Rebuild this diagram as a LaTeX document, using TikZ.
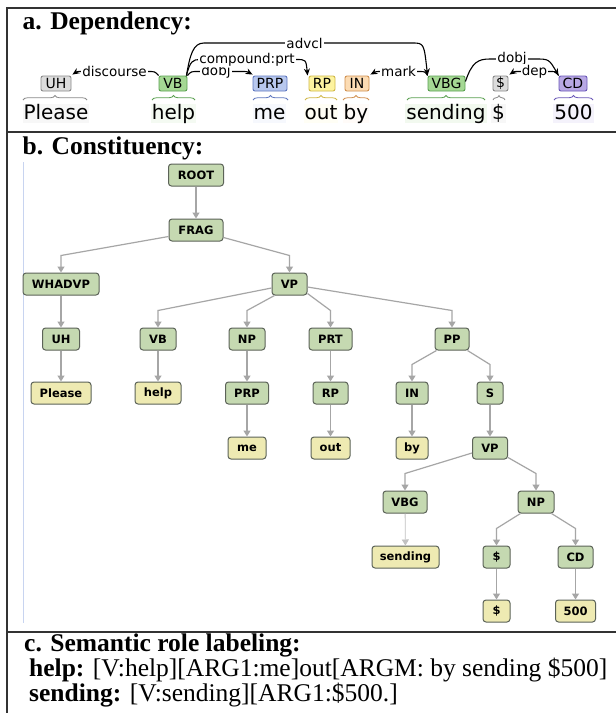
\documentclass[tikz,border=0pt]{standalone}
\usepackage{fontspec}
\setmainfont{Liberation Serif}
\newfontfamily\djv{DejaVu Sans}
\usetikzlibrary{arrows.meta,decorations.pathreplacing,calc}
\definecolor{framec}{HTML}{333333}
\definecolor{ghfill}{HTML}{DCDCDC}\definecolor{ghdraw}{HTML}{8A8A8A}
\definecolor{gnfill}{HTML}{A5D894}\definecolor{gndraw}{HTML}{5AA050}
\definecolor{blfill}{HTML}{B8C8EE}\definecolor{bldraw}{HTML}{6078C0}
\definecolor{ylfill}{HTML}{FDF3A0}\definecolor{yldraw}{HTML}{D0B848}
\definecolor{orfill}{HTML}{FCDCB4}\definecolor{ordraw}{HTML}{D09050}
\definecolor{pufill}{HTML}{B8A8E4}\definecolor{pudraw}{HTML}{6B58B8}
\definecolor{treegreen}{HTML}{C5D9B1}
\definecolor{treeyellow}{HTML}{EEEAB2}
\definecolor{treeborder}{HTML}{5C6358}
\definecolor{edgegray}{HTML}{A6A6A6}
\definecolor{sideblue}{HTML}{C8D4F0}
\begin{document}
\begin{tikzpicture}[x=1pt,y=-1pt,
  frame/.style={draw=framec, line width=1.3pt},
  ttl/.style={anchor=base west, inner sep=0pt, font=\fontsize{25.5}{30}\selectfont\bfseries},
  srl/.style={anchor=base west, inner sep=0pt, font=\fontsize{25.5}{30}\selectfont},
  tag/.style={rounded corners=2pt, minimum height=15pt, inner sep=0pt, line width=0.9pt, font=\djv\fontsize{14}{14}\selectfont},
  word/.style={anchor=base, inner xsep=1pt, inner ysep=0pt, text height=15pt, text depth=4pt, font=\djv\fontsize{20}{20}\selectfont},
  deplabel/.style={fill=white, inner sep=1pt, font=\djv\fontsize{13.5}{13.5}\selectfont},
  dep/.style={line width=1.1pt, -{Stealth[length=7pt,width=6pt]}},
  brc/.style={decorate, decoration={brace, amplitude=4.5pt}, line width=0.8pt},
  cnode/.style={draw=treeborder, fill=treegreen, rounded corners=3pt, minimum height=22pt, inner sep=0pt, line width=1pt, font=\djv\bfseries\fontsize{11.5}{11.5}\selectfont},
  lnode/.style={cnode, fill=treeyellow},
  tedge/.style={draw=edgegray, line width=1.2pt, -{Triangle[length=6pt,width=7pt]}}
]
\useasboundingbox (0,0) rectangle (616,713);
\fill[white] (0,0) rectangle (616,713);
% frame
\draw[frame] (616,8) -- (7,8) -- (7,713);
\draw[frame] (7,132) -- (616,132);
\draw[frame] (7,632) -- (616,632);
% titles
\node[ttl] (ta) at (22.5,29) {a. Dependency:};
\node[ttl] (tb) at (22.5,154) {b. Constituency:};
\node[ttl] (tc) at (24,651) {c. Semantic role labeling:};
\node[srl] (c1) at (29,676) {\textbf{help:} [V:help][ARG1:me]out[ARGM: by sending \$500]};
\node[srl] (c2) at (29,701) {\textbf{sending:} [V:sending][ARG1:\$500.]};

% ---------- dependency ----------
\node[word, fill=black!3] (wPlease) at (56,119) {Please};
\node[word, fill=gnfill!12] (whelp) at (173.5,119) {help};
\node[word, fill=blfill!12] (wme) at (269.5,119) {me};
\node[word, fill=ylfill!10] (wout) at (321,119) {out};
\node[word, fill=orfill!10] (wby) at (356,119) {by};
\node[word, fill=gnfill!15] (wsending) at (446,119) {sending};
\node[word, fill=black!3] (wdol) at (498.5,119) {\$};
\node[word, fill=pufill!15] (w500) at (573.5,119) {500};

\draw[brc, ghdraw] (23,100) -- (87,100);
\draw[brc, gndraw] (152,100) -- (195,100);
\draw[brc, bldraw] (253,100) -- (288,100);
\draw[brc, yldraw] (305,100) -- (337,100);
\draw[brc, ordraw] (343,100) -- (369,100);
\draw[brc, gndraw] (407,100) -- (485,100);
\draw[brc, ghdraw] (493,100) -- (505,100);
\draw[brc, pudraw] (554,100) -- (593,100);

\node[tag, fill=ghfill, draw=ghdraw, minimum width=30pt] (UH) at (56,83.5) {UH};
\node[tag, fill=gnfill, draw=gndraw, minimum width=28pt] (VB) at (173,83.5) {VB};
\node[tag, fill=blfill, draw=bldraw, minimum width=34pt] (PRP) at (270,83.5) {PRP};
\node[tag, fill=ylfill, draw=yldraw, minimum width=26pt] (RP) at (322,83.5) {RP};
\node[tag, fill=orfill, draw=ordraw, minimum width=24pt] (IN) at (357,83.5) {IN};
\node[tag, fill=gnfill, draw=gndraw, minimum width=37pt] (VBG) at (446.5,83.5) {VBG};
\node[tag, fill=ghfill, draw=ghdraw, minimum width=15pt] (DOL) at (500.5,83.5) {\$};
\node[tag, fill=pufill, draw=pudraw, minimum width=28pt] (CD) at (573,83.5) {CD};

% arcs
\draw[dep] (VB.north west) .. controls (155,71.5) .. (148,71.5) -- (82,71.5) .. controls (77,71.5) .. ($(UH.north east)+(1,-1)$);
\node[deplabel] (ldisc) at (114.5,71.5) {discourse};
\draw[dep] (VB.north east) .. controls (191,71.5) .. (198,71.5) -- (242,71.5) .. controls (247,71.5) .. ($(PRP.north west)+(0,-1)$);
\node[deplabel] (ldobj1) at (216,71.5) {dobj};
\draw[dep] ($(VB.north east)+(-1,0)$) .. controls (190,61) and (193,59.5) .. (200,59.5) -- (296,59.5) .. controls (306,59.5) .. ($(RP.north west)+(-1,0)$);
\node[deplabel] (lcomp) at (247,59.5) {compound:prt};
\draw[dep] ($(VB.north east)+(-1,0)$) .. controls (190,55) and (193,43) .. (204,43) -- (412,43) .. controls (424,43) .. ($(VBG.north west)+(0,0)$);
\node[deplabel] (ladvcl) at (304.5,43) {advcl};
\draw[dep] (VBG.north west) .. controls (425,71.5) .. (419,71.5) -- (381,71.5) .. controls (376,71.5) .. ($(IN.north east)+(1,-1)$);
\node[deplabel] (lmark) at (398.5,71.5) {mark};
\draw[dep] ($(VBG.east)+(0,-2)$) .. controls (472,62) and (478,59) .. (490,59) -- (535,59) .. controls (549,59) .. (CD.north west);
\node[deplabel] (ldobj2) at (512,59) {dobj};
\draw[dep] (CD.north west) .. controls (556,71.5) .. (550,71.5) -- (519,71.5) .. controls (514,71.5) .. ($(DOL.north east)+(1,-1)$);
\node[deplabel] (ldep) at (534.5,71.5) {dep};

% ---------- constituency ----------
\draw[sideblue, line width=1pt] (23,162) -- (23,623);
\node[cnode, minimum width=55pt] (tROOT) at (196,175) {ROOT};
\node[cnode, minimum width=54pt] (tFRAG) at (196,230) {FRAG};
\node[cnode, minimum width=76pt] (tWHADVP) at (61,284) {WHADVP};
\node[cnode, minimum width=35pt] (tVP) at (289.5,284) {VP};
\node[cnode, minimum width=37pt] (tUH) at (61,339) {UH};
\node[cnode, minimum width=36pt] (tVB) at (158,339) {VB};
\node[cnode, minimum width=36pt] (tNP) at (247,339) {NP};
\node[cnode, minimum width=43pt] (tPRT) at (330.5,339) {PRT};
\node[cnode, minimum width=34pt] (tPP) at (452,339) {PP};
\node[lnode, minimum width=60pt] (tPlease) at (61,393) {Please};
\node[lnode, minimum width=46pt] (thelp) at (158,393) {help};
\node[cnode, minimum width=43pt] (tPRP) at (247,393) {PRP};
\node[cnode, minimum width=35pt] (tRP) at (330.5,393) {RP};
\node[cnode, minimum width=32pt] (tIN) at (412,393) {IN};
\node[cnode, minimum width=26pt] (tS) at (490,393) {S};
\node[lnode, minimum width=38pt] (tme) at (247,448) {me};
\node[lnode, minimum width=39pt] (tout) at (330.5,448) {out};
\node[lnode, minimum width=32pt] (tby) at (412,448) {by};
\node[cnode, minimum width=35pt] (tVPb) at (490,448) {VP};
\node[cnode, minimum width=44pt] (tVBG) at (405,502) {VBG};
\node[cnode, minimum width=36pt] (tNPb) at (536,502) {NP};
\node[lnode, minimum width=67pt] (tsending) at (405.5,557) {sending};
\node[cnode, minimum width=27pt] (tDol) at (496.5,557) {\$};
\node[cnode, minimum width=35pt] (tCD) at (575.5,557) {CD};
\node[lnode, minimum width=27pt] (tDolw) at (496.5,611) {\$};
\node[lnode, minimum width=40pt] (t500) at (575.5,611) {500};

\draw[tedge] (tROOT) -- (tFRAG);
\draw[tedge] ($(tFRAG.south west)+(0,-5)$) -- ($(tWHADVP.north)+(0,-17)$) -- (tWHADVP.north);
\draw[tedge] ($(tFRAG.south east)+(0,-4)$) -- ($(tVP.north)+(0,-17)$) -- (tVP.north);
\draw[tedge] (tWHADVP) -- (tUH);
\draw[tedge] ($(tVP.west)+(0,4)$) -- ($(tVB.north)+(0,-17)$) -- (tVB.north);
\draw[tedge] ($(tVP.south west)+(3,0)$) -- ($(tNP.north)+(0,-17)$) -- (tNP.north);
\draw[tedge] ($(tVP.south east)+(0,-2)$) -- ($(tPRT.north)+(0,-17)$) -- (tPRT.north);
\draw[tedge] ($(tVP.east)+(0,3)$) -- ($(tPP.north)+(0,-17)$) -- (tPP.north);
\draw[tedge] (tUH) -- (tPlease);
\draw[tedge] (tVB) -- (thelp);
\draw[tedge] (tNP) -- (tPRP);
\draw[tedge] (tPRP) -- (tme);
\draw[tedge] (tPRT) -- (tRP);
\draw[tedge] (tRP) -- (tout);
\draw[tedge] ($(tPP.south west)+(2,0)$) -- ($(tIN.north)+(0,-17)$) -- (tIN.north);
\draw[tedge] ($(tPP.south east)+(-2,0)$) -- ($(tS.north)+(0,-17)$) -- (tS.north);
\draw[tedge] (tIN) -- (tby);
\draw[tedge] (tS) -- (tVPb);
\draw[tedge] ($(tVPb.west)+(0,5)$) -- ($(tVBG.north)+(0,-17)$) -- (tVBG.north);
\draw[tedge] ($(tVPb.south east)+(0,-2)$) -- ($(tNPb.north)+(0,-17)$) -- (tNPb.north);
\draw[tedge, line width=0.8pt, draw=edgegray!70] (tVBG) -- (tsending);
\draw[tedge] ($(tNPb.south west)+(3,0)$) -- ($(tDol.north)+(0,-17)$) -- (tDol.north);
\draw[tedge] ($(tNPb.south east)+(-3,0)$) -- ($(tCD.north)+(0,-17)$) -- (tCD.north);
\draw[tedge] (tDol) -- (tDolw);
\draw[tedge] (tCD) -- (t500);
\end{tikzpicture}
\end{document}
